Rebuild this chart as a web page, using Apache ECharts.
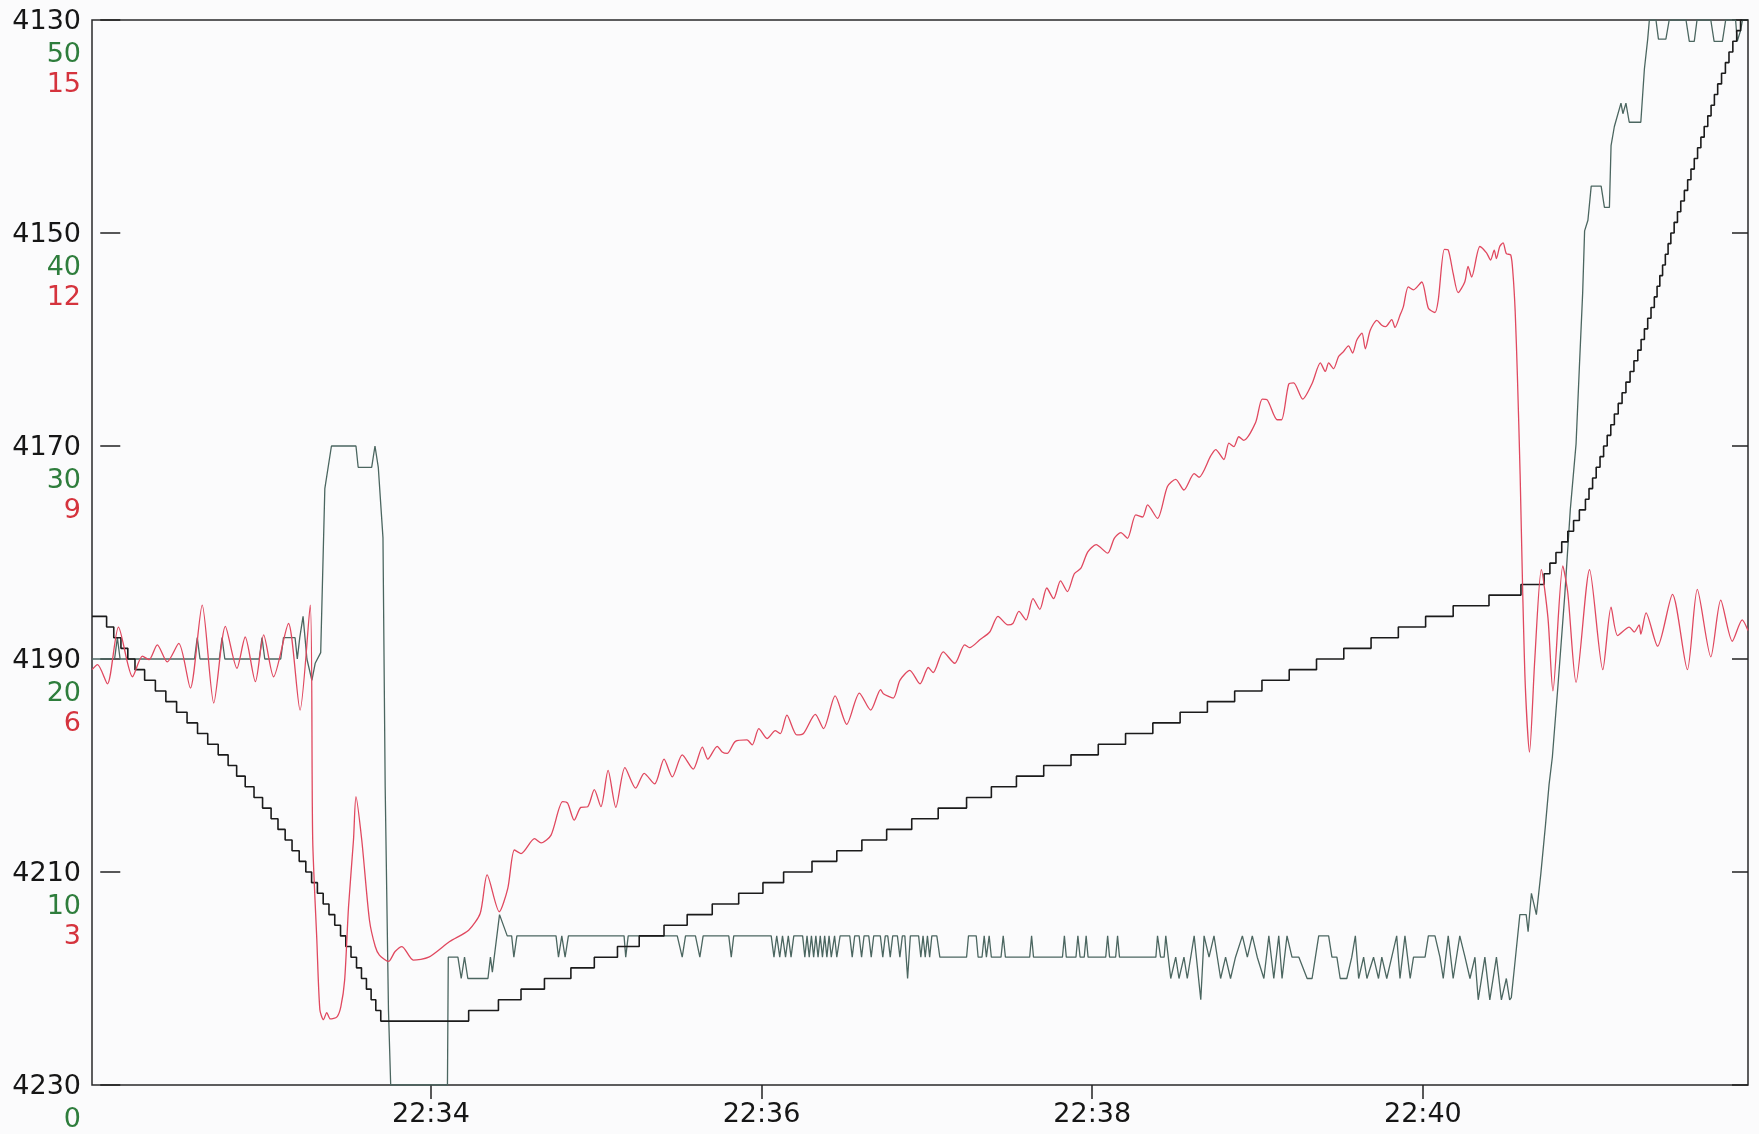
<!DOCTYPE html>
<html>
<head>
<meta charset="utf-8">
<script src="https://cdn.jsdelivr.net/npm/echarts@6/dist/echarts.min.js"></script>
<style>
  html, body { margin: 0; padding: 0; background: #fbfbfc; }
  #chart { width: 1759px; height: 1134px; }
</style>
</head>
<body>
<div id="chart"></div>
<script>
// Time is counted in seconds after 22:32:00.
const timeTicks = [120, 240, 360, 480];

// Black trace (left scale 4130..4230, drawn downwards): time of each step and the new level.
const blackTime = [-3, 2.3, 4.9, 7.5, 10.0, 12.6, 16.1, 20.0, 23.8, 27.7, 31.5, 35.3, 39.0, 42.8,
  46.4, 49.5, 52.6, 55.8, 58.9, 62.0, 64.5, 67.1, 69.6, 72.2, 74.6, 76.7, 78.8, 80.9, 83.0, 85.1,
  87.2, 89.1, 91.0, 93.0, 94.8, 96.6, 98.3, 100.0, 101.8,
  133.7, 144.5, 152.7, 161.2, 170.8, 179.3, 187.7, 195.6, 204.6, 213, 222.1, 231.7, 240.5, 248,
  258.3, 267.3, 276.4, 285.4, 294.5, 304.1, 314.4, 323.4, 332.5, 342.4, 352.3, 362.2, 372.1, 382.0,
  391.9, 401.8, 411.7, 421.6, 431.5, 441.4, 451.3, 461.2, 471.1, 481.0, 491.0, 504, 515.6, 524,
  526.1, 528.3, 530.4, 532.6, 534.7, 536.8, 539, 540.3, 541.6, 542.9, 544.3, 545.6, 546.9, 548.2,
  549.5, 550.9, 552.3, 553.7, 555.2, 556.6, 558, 559.2, 560.4, 561.6, 562.8, 564, 565, 566, 567,
  568, 569, 570, 571.2, 572.4, 573.6, 574.9, 576.1, 577.3, 578.5, 579.7, 580.9, 582.1, 583.4,
  584.6, 585.8, 587, 588.4, 589.8, 591.1, 592.5, 593.9, 595.3, 598];
const blackValue = [4186, 4187, 4188, 4189, 4190, 4191, 4192, 4193, 4194, 4195, 4196, 4197, 4198, 4199,
  4200, 4201, 4202, 4203, 4204, 4205, 4206, 4207, 4208, 4209, 4210, 4211, 4212, 4213, 4214, 4215,
  4216, 4217, 4218, 4219, 4220, 4221, 4222, 4223, 4224,
  4223, 4222, 4221, 4220, 4219, 4218, 4217, 4216, 4215, 4214, 4213, 4212, 4211, 4210,
  4209, 4208, 4207, 4206, 4205, 4204, 4203, 4202, 4201, 4200, 4199, 4198, 4197, 4196,
  4195, 4194, 4193, 4192, 4191, 4190, 4189, 4188, 4187, 4186, 4185, 4184, 4183, 4182,
  4181, 4180, 4179, 4178, 4177, 4176, 4175, 4174, 4173, 4172, 4171, 4170, 4169, 4168,
  4167, 4166, 4165, 4164, 4163, 4162, 4161, 4160, 4159, 4158, 4157, 4156, 4155, 4154, 4153,
  4152, 4151, 4150, 4149, 4148, 4147, 4146, 4145, 4144, 4143, 4142, 4141, 4140, 4139,
  4138, 4137, 4136, 4135, 4134, 4133, 4132, 4131, 4130, 4130];

// Green trace (scale 0..50).
const greenTime = [-3, 5.2, 6.2, 7.2, 34.2, 35.2, 36.2, 43.2, 44.2, 45.2, 57.7, 58.7, 59.7, 65.5, 66.5,
  70.7, 71.5, 72.4, 73.6, 75, 76.8, 78, 80, 81.5, 83.9, 92.8, 93.6, 98.5, 99.7, 100.9, 102.6, 103.4,
  104.6, 105.4, 126, 126.3, 129.8, 131, 132.2, 133.4, 140.7, 141.6, 142.3, 144.9, 147.7, 149.3, 150.1,
  151.2, 165.4, 166.3, 167.5, 168.7, 169.9, 190.1, 190.7, 191.6, 209.4, 211.2, 212.4, 216, 217.6,
  218.8, 228.1, 229, 229.9, 243.5, 244.5, 245.5, 246.6, 247.6, 248.7, 249.7, 250.7, 251.7, 254.9,
  255.7, 256.5, 257.3, 258.1, 258.9, 259.7, 260.5, 261.3, 262.1, 262.9, 263.7, 264.5, 265.3, 266.5,
  267.3, 268.5, 272, 272.9, 273.8, 275.4, 276.3, 277.2, 278.9, 279.8, 280.7, 283.1, 284, 284.9,
  285.8, 286.7, 287.6, 289.3, 290.2, 291.1, 292, 293, 294, 297, 297.8, 298.6, 299.4, 300.2, 301,
  301.8, 303.6, 304.7, 314.4, 315.1, 317.9, 318.6, 320, 320.8, 321.6, 322.6, 323.4, 326.9, 327.7,
  328.5, 337.3, 338, 338.7, 349.2, 349.9, 350.6, 354.1, 354.8, 355.6, 357.1, 357.8, 358.5, 364.9,
  365.6, 366.3, 368.5, 369.2, 369.9, 383.1, 383.7, 384.8, 386.1, 386.7, 388.5, 390.3, 391.5, 393.3,
  394.5, 397, 399.4, 400.6, 402.4, 404.2, 406.6, 408.4, 410.2, 412, 414.5, 416.3, 418.1, 419.9,
  422.3, 424.1, 425.9, 427.7, 428.9, 430.7, 432.5, 435, 438, 439.8, 441, 442.2, 445.8, 447, 448.8,
  450, 452.4, 454.2, 455.5, 456.7, 458.5, 459.7, 462.1, 463.9, 465.1, 466.9, 468.7, 470.5, 471.7,
  473.5, 475.4, 476.6, 480.8, 482, 484.4, 486.2, 487.4, 489.2, 491, 493.4, 495.3, 497.1, 498.9,
  500.1, 502.5, 504.3, 506.7, 508.5, 510.3, 511.5, 512.1, 513.3, 515.2, 517.5, 518.2, 519.4, 521.2,
  522.8, 524.5, 525.8, 527, 529, 531.5, 533.5, 535.6, 536.8, 538, 538.7, 539.9, 541.1, 544.7, 545.9,
  547.7, 548.3, 549.5, 551.9, 552.6, 553.7, 554.9, 559.1, 560.4, 561.6, 562.2, 564.6, 565.5, 568.2,
  569.4, 575.5, 576.7, 578.5, 579.5, 584.5, 585.7, 588.7, 589.9, 593.5, 594.1, 595.3, 596, 598];
const greenValue = [20, 20, 21, 20, 20, 21, 20, 20, 21, 20, 20, 21, 20, 20, 21,
  21, 20, 21, 22, 20, 19, 19.8, 20.3, 28, 30, 30, 29, 29, 30, 29, 25.7, 14,
  3.5, 0, 0, 6, 6, 5, 6, 5, 5, 6, 5.3, 8, 7, 7, 6,
  7, 7, 6, 7, 6, 7, 7, 6, 7, 7, 6, 7, 7, 6,
  7, 7, 6, 7, 7, 6, 7, 6, 7, 6, 7, 6, 7, 7,
  6, 7, 6, 7, 6, 7, 6, 7, 6, 7, 6, 7, 6, 7,
  6, 7, 7, 6, 7, 7, 6, 7, 7, 6, 7, 7, 6, 7,
  7, 6, 7, 7, 6, 7, 7, 5, 7, 7, 6, 7, 6, 7, 6,
  7, 7, 6, 6, 7, 7, 6, 6, 7, 6, 7, 6, 6, 7,
  6, 6, 7, 6, 6, 7, 6, 6, 7, 6, 6, 7, 6, 6,
  7, 6, 6, 7, 6, 6, 7, 6, 6, 7, 5, 6, 5, 6,
  5, 7, 4, 7, 6, 7, 5, 6, 5, 6, 7, 6, 7, 6,
  5, 7, 5, 7, 5, 7, 6, 6, 5, 5, 6, 7, 7, 6, 6,
  5, 5, 6, 7, 5, 6, 5, 6, 5, 6, 5, 6, 7, 5,
  7, 5, 6, 6, 7, 7, 6, 5, 7, 5, 7, 6, 5, 6,
  4, 6, 4, 6, 4, 5, 4, 4.1, 5.6, 8, 8, 7.2, 9, 8,
  9.9, 12.2, 14.1, 15.4, 18.7, 23, 27, 30.1, 33.7, 37.2, 40.1, 40.6, 42.2, 42.2, 41.2,
  41.2, 44.1, 45, 46.1, 45.6, 46.1, 45.2, 45.2, 47.7, 49.1, 50, 50, 49.1, 49.1,
  50, 50, 49, 49, 50, 50, 49, 49, 50, 50, 49, 49.5, 50, 50];

// Red trace (scale 0..15).
const redTime = [-3, -1, 2.6, 6.6, 11.7, 15.3, 17.7, 20.7, 24.3, 28.5, 32.7, 37, 41.2, 45.4, 49.6,
  52.6, 56.3, 59.3, 62.9, 68.3, 72.5, 76.2, 77.1, 78.6, 79.7, 81, 82.2, 83.5, 85.9, 87.3, 88.7,
  90.1, 91.9, 92.8, 94.9, 97.7, 99.8, 101.3, 104.6, 107, 109.5, 113.6, 119.2, 126.8, 133.7, 137.9,
  140.4, 144.8, 147.9, 150.3, 152.7, 157.6, 160, 163.6, 167.8, 169.6, 172, 174.4, 176.9, 179.3,
  181.7, 184.3, 187.1, 190.4, 194.3, 197.4, 201.2, 204.6, 207.6, 211.2, 215.2, 218.5, 220.5, 223.9,
  225.7, 227.5, 230.5, 234.7, 236.6, 239, 242, 245, 246.8, 249.2, 252.8, 255.2, 259.5, 262.5, 266.7,
  270.9, 275.5, 279.6, 283.2, 284.2, 287.8, 290.2, 293.8, 297.5, 300.5, 302.3, 305.9, 310.1, 313.7,
  315.5, 319.2, 322.8, 325.8, 329.4, 331.2, 333.4, 336, 338.5, 341, 343.5, 346, 348.5, 351, 353.5,
  355.9, 358.4, 361.4, 365.6, 368, 370.4, 372.8, 375.8, 378.3, 380.1, 383.7, 387.3, 390.3, 393.3,
  397, 398.8, 403, 404.8, 407.8, 409.6, 411.4, 413.2, 415, 419.3, 421.7, 423.5, 427.1, 428.7, 431.3,
  433.1, 436.4, 439.8, 442.8, 444.6, 445.8, 447.6, 449.4, 451.2, 453, 454.5, 456, 457.9, 459.1,
  460.9, 463.3, 465.1, 466.5, 468.7, 469.9, 471.7, 472.9, 474.7, 476.6, 479.6, 482, 484.4, 485.6,
  487.8, 489.2, 491, 492.8, 495.2, 496.4, 497.7, 500.7, 503.1, 504.6, 505.9, 506.7, 507.9, 509.1,
  510.3, 511.9, 512.7, 513.5, 514.3, 515.3, 516.2, 517.2, 518.7, 520.6, 523, 525.4, 527.2, 530.8,
  532.6, 535.6, 540.5, 545.3, 548.3, 550.7, 554.9, 556.7, 558.5, 559.1, 561, 565.2, 570.6, 576,
  579.6, 584.5, 588.1, 592.3, 595.9, 598];
const redValue = [5.85, 5.92, 5.65, 6.45, 5.75, 6.04, 5.99, 6.2, 5.96, 6.22, 5.59, 6.76, 5.38, 6.46, 5.87,
  6.31, 5.68, 6.34, 5.75, 6.5, 5.28, 6.76, 3.45, 2.04, 1.06, 0.92, 1.02, 0.93, 0.96, 1.1, 1.48,
  2.51, 3.45, 4.06, 3.45, 2.32, 1.95, 1.83, 1.74, 1.88, 1.95, 1.76, 1.8, 2.02, 2.18, 2.42,
  2.96, 2.44, 2.77, 3.31, 3.26, 3.47, 3.41, 3.52, 3.99, 3.97, 3.73, 3.91, 3.92, 4.16,
  3.92, 4.43, 3.91, 4.47, 4.18, 4.39, 4.24, 4.59, 4.34, 4.65, 4.45, 4.76, 4.59, 4.77,
  4.69, 4.67, 4.84, 4.86, 4.79, 5.02, 4.88, 4.99, 4.95, 5.21, 4.93, 4.95, 5.22, 5.02, 5.48,
  5.08, 5.52, 5.28, 5.57, 5.51, 5.45, 5.7, 5.84, 5.65, 5.88, 5.81, 6.1, 5.94, 6.2,
  6.16, 6.27, 6.38, 6.6, 6.48, 6.5, 6.67, 6.55, 6.85, 6.7, 7.0, 6.85, 7.1, 6.95, 7.2,
  7.28, 7.51, 7.61, 7.49, 7.7, 7.78, 7.7, 8.03, 8.0, 8.17, 7.98, 8.43, 8.53, 8.38,
  8.61, 8.56, 8.86, 8.95, 8.81, 9.04, 8.99, 9.13, 9.08, 9.33, 9.66, 9.65, 9.37, 9.37, 9.87,
  9.89, 9.66, 9.88, 10.17, 10.05, 10.17, 10.09, 10.26, 10.33, 10.41, 10.31, 10.49, 10.59, 10.37,
  10.63, 10.77, 10.7, 10.68, 10.78, 10.67, 10.84, 10.96, 11.24, 11.2, 11.31, 10.94, 10.88, 11.06,
  11.77, 11.76, 11.43, 11.16, 11.31, 11.53, 11.38, 11.81, 11.72, 11.62, 11.76, 11.64, 11.81, 11.86,
  11.71, 11.69, 11.43, 10.9, 10.0, 8.6, 7.0, 5.6, 4.69, 5.98, 7.26, 6.58, 5.55, 7.31,
  6.93, 5.67, 7.26, 5.85, 6.73, 6.33, 6.45, 6.38, 6.48, 6.35, 6.65, 6.18, 6.91, 5.85,
  6.98, 6.03, 6.83, 6.25, 6.55, 6.4];

function pairs(times, values) {
  return times.map((t, i) => [t, values[i]]);
}

// Seconds after 22:32:00 -> "HH:MM"
function clockLabel(sec) {
  const total = 22 * 3600 + 32 * 60 + sec;
  const hh = Math.floor(total / 3600);
  const mm = Math.floor((total % 3600) / 60);
  return hh + ':' + String(mm).padStart(2, '0');
}

const FONT = 'DejaVu Sans';
const FONT_SIZE = 27;
const INK = '#161616';

const chart = echarts.init(document.getElementById('chart'), null, { renderer: 'canvas' });
chart.setOption({
  backgroundColor: '#fbfbfc',
  animation: false,
  grid: {
    left: 92, right: 11, top: 20, bottom: 49,
    show: true,
    borderColor: '#2a2a2a',
    borderWidth: 1.5,
    backgroundColor: 'transparent',
    containLabel: false,
    outerBoundsMode: 'none'
  },
  xAxis: {
    type: 'value',
    min: -3,
    max: 598,
    axisLine: { show: false },
    splitLine: { show: false },
    axisTick: {
      show: true, inside: false, length: 14,
      customValues: timeTicks,
      lineStyle: { color: '#222', width: 1.5 }
    },
    axisLabel: {
      customValues: timeTicks,
      formatter: clockLabel,
      margin: 16,
      fontFamily: FONT, fontSize: FONT_SIZE, color: INK
    }
  },
  yAxis: [
    {
      // left scale 4130..4230, growing downwards
      type: 'value', position: 'left', inverse: true,
      min: 4130, max: 4230, interval: 20,
      axisLine: { show: false },
      splitLine: { show: false },
      axisTick: { show: true, inside: true, length: 20, lineStyle: { color: '#222', width: 1.5 } },
      axisLabel: {
        margin: 11, fontFamily: FONT, fontSize: FONT_SIZE, color: INK,
        verticalAlign: 'top', lineHeight: 4,
        showMinLabel: true, showMaxLabel: true,
        formatter: v => String(v)
      }
    },
    {
      // green scale 0..50, labels one line below
      type: 'value', position: 'left',
      min: 0, max: 50, interval: 10,
      axisLine: { show: false },
      splitLine: { show: false },
      axisTick: { show: false },
      axisLabel: {
        margin: 11, fontFamily: FONT, fontSize: FONT_SIZE, color: '#2e7d3c',
        verticalAlign: 'top', lineHeight: 70,
        showMinLabel: true, showMaxLabel: true,
        formatter: v => String(v)
      }
    },
    {
      // red scale 0..15, labels two lines below
      type: 'value', position: 'left',
      min: 0, max: 15, interval: 3,
      axisLine: { show: false },
      splitLine: { show: false },
      axisTick: { show: false },
      axisLabel: {
        margin: 11, fontFamily: FONT, fontSize: FONT_SIZE, color: '#d5333d',
        verticalAlign: 'top', lineHeight: 129,
        showMinLabel: true, showMaxLabel: true,
        formatter: v => (v === 0 ? '' : String(v))
      }
    },
    {
      // tick marks on the right frame
      type: 'value', position: 'right', inverse: true,
      min: 4130, max: 4230, interval: 20,
      axisLine: { show: false },
      splitLine: { show: false },
      axisTick: { show: true, inside: true, length: 16, lineStyle: { color: '#222', width: 1.5 } },
      axisLabel: { show: false }
    }
  ],
  series: [
    {
      name: 'green',
      type: 'line',
      yAxisIndex: 1,
      data: pairs(greenTime, greenValue),
      showSymbol: false,
      lineStyle: { color: '#4b6660', width: 1.3 },
      z: 2
    },
    {
      name: 'black',
      type: 'line',
      yAxisIndex: 0,
      step: 'end',
      data: pairs(blackTime, blackValue),
      showSymbol: false,
      lineStyle: { color: '#1b1b1b', width: 1.6 },
      z: 3
    },
    {
      name: 'red',
      type: 'line',
      yAxisIndex: 2,
      smooth: 0.25,
      data: pairs(redTime, redValue),
      showSymbol: false,
      lineStyle: { color: '#e0485f', width: 1.3 },
      z: 4
    }
  ]
});
</script>
</body>
</html>
